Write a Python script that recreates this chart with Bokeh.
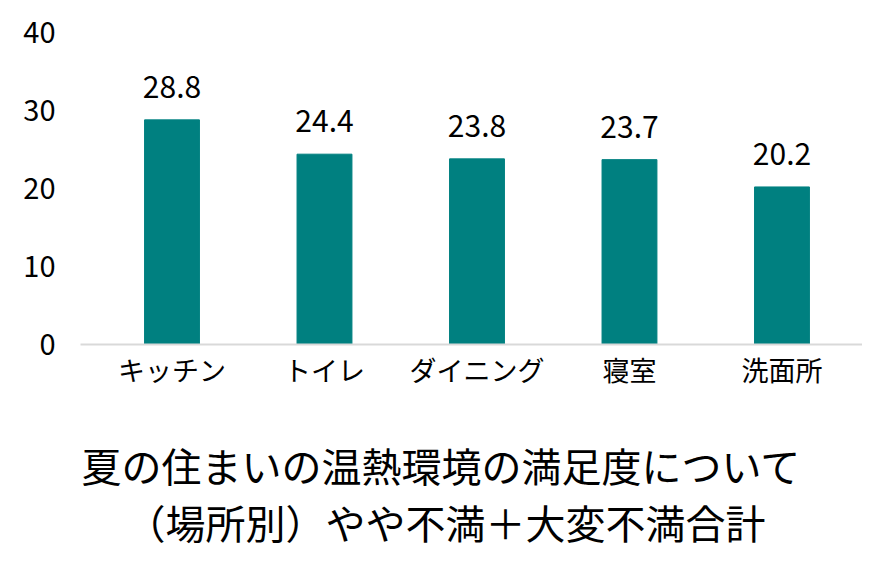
from bokeh.plotting import figure
from bokeh.layouts import column
from bokeh.models import ColumnDataSource, LabelSet, Range1d, FixedTicker
from bokeh.core.properties import value
from bokeh.embed import file_html
from bokeh.resources import INLINE

categories = ["キッチン", "トイレ", "ダイニング", "寝室", "洗面所"]
values = [28.8, 24.4, 23.8, 23.7, 20.2]
labels = ["28.8", "24.4", "23.8", "23.7", "20.2"]
y_ticks = [0, 10, 20, 30, 40]
title_lines = ["夏の住まいの温熱環境の満足度について", "（場所別）やや不満＋大変不満合計"]

FONT = "Noto Sans CJK JP"
TEAL = "#008080"

xs = list(range(len(categories)))
src = ColumnDataSource(dict(x=xs, cat=categories, val=values, lab=labels))

p = figure(width=862, height=410, output_backend="svg", toolbar_location=None,
           x_range=Range1d(-0.6, 4.528), y_range=Range1d(0, 40),
           min_border_left=80, min_border_right=0, min_border_top=32,
           min_border_bottom=66)

p.vbar(x="x", top="val", width=0.36, source=src, color=TEAL, line_color=TEAL)

p.add_layout(LabelSet(x="x", y="val", text="lab", source=src, text_align="center",
                      text_baseline="alphabetic", y_offset=22, text_font=value(FONT),
                      text_font_size=value("30px"), text_color="#000000"))

p.grid.visible = False
p.outline_line_color = None
p.background_fill_color = "white"
p.border_fill_color = "white"

p.yaxis.ticker = FixedTicker(ticks=y_ticks)
p.yaxis.axis_line_color = None
p.yaxis.major_tick_line_color = None
p.yaxis.minor_tick_line_color = None
p.yaxis.major_tick_out = 0
p.yaxis.major_label_text_font = FONT
p.yaxis.major_label_text_font_size = "29px"
p.yaxis.major_label_text_color = "#000000"
p.yaxis.major_label_standoff = 25

p.xaxis.ticker = FixedTicker(ticks=xs)
p.xaxis.major_label_overrides = {i: c for i, c in zip(xs, categories)}
p.xaxis.axis_line_color = "#d9d9d9"
p.xaxis.axis_line_width = 2
p.xaxis.major_tick_line_color = None
p.xaxis.minor_tick_line_color = None
p.xaxis.major_label_text_font = FONT
p.xaxis.major_label_text_font_size = "27px"
p.xaxis.major_label_text_color = "#000000"
p.xaxis.major_label_standoff = -1

# title block as a second figure; its frame is aligned with the chart frame (80..862 px)
t = figure(width=862, height=141, output_backend="svg", toolbar_location=None,
           x_range=Range1d(80, 862), y_range=Range1d(0, 141),
           min_border=0, outline_line_color=None)
t.axis.visible = False
t.grid.visible = False
tsrc = ColumnDataSource(dict(x=[441, 445], y=[87, 30], text=title_lines))
t.text(x="x", y="y", text="text", source=tsrc, text_align="center",
       text_baseline="middle", text_font=value(FONT), text_font_size="40px",
       text_color="#000000")

layout = column(p, t, spacing=0)
open("out.html", "w").write(file_html(layout, INLINE))
